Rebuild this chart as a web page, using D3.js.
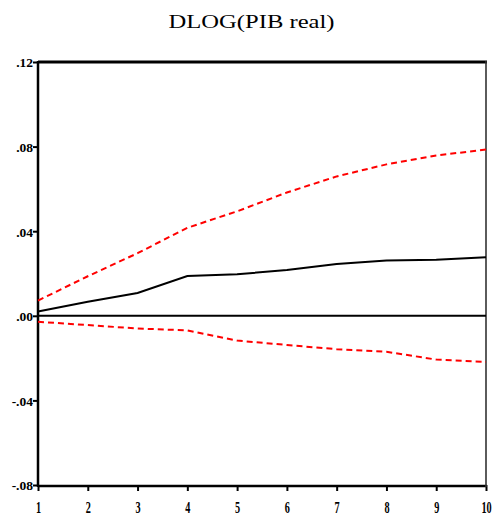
<!DOCTYPE html>
<html>
<head>
<meta charset="utf-8">
<script src="https://cdn.jsdelivr.net/npm/d3@7"></script>
<style>
  html, body { margin: 0; padding: 0; background: #fff; }
  svg { display: block; }
</style>
</head>
<body>
<svg id="chart" width="493" height="517"></svg>
<script>
const title = "DLOG(PIB real)";
const periods = [1, 2, 3, 4, 5, 6, 7, 8, 9, 10];
const response = [0.0020, 0.0066, 0.0108, 0.0188, 0.0196, 0.0217, 0.0245, 0.0261, 0.0265, 0.0277];
const upperBand = [0.0072, 0.0187, 0.0296, 0.0416, 0.0494, 0.0583, 0.0659, 0.0716, 0.0758, 0.0786];
const lowerBand = [-0.0028, -0.0044, -0.0060, -0.0069, -0.0117, -0.0138, -0.0158, -0.0170, -0.0207, -0.0218];
const yTicks = [0.12, 0.08, 0.04, 0.00, -0.04, -0.08];
const yTickLabels = [".12", ".08", ".04", ".00", "-.04", "-.08"];
const xTickLabels = ["1", "2", "3", "4", "5", "6", "7", "8", "9", "10"];

const svg = d3.select("#chart");
const L = 38, R = 486, T = 62, B = 485;

const x = d3.scaleLinear().domain([1, 10]).range([L, R]);
const y = d3.scaleLinear().domain([-0.08, 0.12]).range([B, T]);

// Title
svg.append("text")
  .attr("x", 251.5).attr("y", 27.5)
  .attr("text-anchor", "middle")
  .attr("font-family", "'Liberation Serif', 'DejaVu Serif', serif")
  .attr("font-size", 19)
  .attr("textLength", 166)
  .attr("lengthAdjust", "spacingAndGlyphs")
  .attr("fill", "#000")
  .text(title);

// Y axis
const yAxis = d3.axisLeft(y)
  .tickValues(yTicks)
  .tickFormat((d, i) => yTickLabels[i])
  .tickSize(5)
  .tickPadding(0);
const gy = svg.append("g").attr("transform", `translate(${L},0)`).call(yAxis);
gy.select(".domain").remove();
gy.selectAll(".tick line").attr("stroke", "#000").attr("stroke-width", 2);
gy.selectAll(".tick text")
  .attr("font-family", "'Liberation Serif', serif")
  .attr("font-weight", "bold")
  .attr("font-size", 13.5)
  .attr("fill", "#000")
  .attr("dy", "0.36em");

// X axis
const xAxis = d3.axisBottom(x)
  .tickValues(periods)
  .tickFormat((d, i) => xTickLabels[i])
  .tickSize(6)
  .tickPadding(0);
const gx = svg.append("g").attr("transform", `translate(0,${B})`).call(xAxis);
gx.select(".domain").remove();
gx.selectAll(".tick line").attr("stroke", "#000").attr("stroke-width", 2);
gx.selectAll(".tick text").remove();
gx.selectAll(".tick").append("text")
  .attr("transform", "translate(0,28) scale(0.62,1)")
  .attr("text-anchor", "middle")
  .attr("font-family", "'Liberation Serif', serif")
  .attr("font-weight", "bold")
  .attr("font-size", 16.5)
  .attr("fill", "#000")
  .text((d, i) => xTickLabels[i]);

// Frame
svg.append("line").attr("x1", L).attr("x2", R + 1).attr("y1", T).attr("y2", T)
  .attr("stroke", "#000").attr("stroke-width", 3);
svg.append("line").attr("x1", L).attr("x2", R + 1).attr("y1", B + 1).attr("y2", B + 1)
  .attr("stroke", "#000").attr("stroke-width", 2.5);
svg.append("line").attr("x1", L).attr("x2", L).attr("y1", T - 1).attr("y2", B + 2)
  .attr("stroke", "#000").attr("stroke-width", 2.5);
svg.append("line").attr("x1", R).attr("x2", R).attr("y1", T - 1).attr("y2", B + 2)
  .attr("stroke", "#333").attr("stroke-width", 1.6);

// Zero line
svg.append("line").attr("x1", L).attr("x2", R).attr("y1", y(0)).attr("y2", y(0))
  .attr("stroke", "#000").attr("stroke-width", 2);

const line = d3.line().x((d, i) => x(periods[i])).y(d => y(d));

svg.append("path").datum(upperBand).attr("d", line)
  .attr("fill", "none").attr("stroke", "#ff0000").attr("stroke-width", 2)
  .attr("stroke-dasharray", "6,4");
svg.append("path").datum(lowerBand).attr("d", line)
  .attr("fill", "none").attr("stroke", "#ff0000").attr("stroke-width", 2)
  .attr("stroke-dasharray", "6,4");
svg.append("path").datum(response).attr("d", line)
  .attr("fill", "none").attr("stroke", "#000").attr("stroke-width", 2);
</script>
</body>
</html>
